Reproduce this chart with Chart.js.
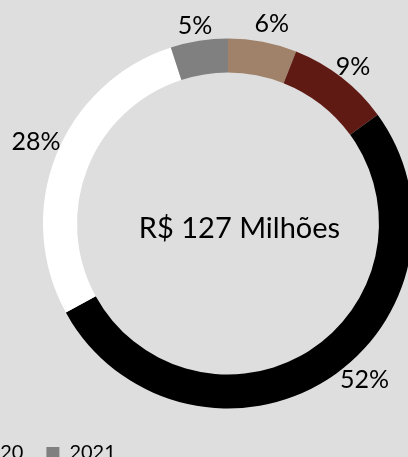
<!DOCTYPE html>
<html>
<head>
<meta charset="utf-8">
<script src="https://cdn.jsdelivr.net/npm/chart.js@4.4.1/dist/chart.umd.min.js"></script>
<style>
    html, body { margin: 0; padding: 0; background: #dedede; width: 408px; height: 457px; overflow: hidden; position: relative; }
    #wrap { position: absolute; left: -69px; top: 0; width: 594px; height: 479px; }
</style>
</head>
<body>
<div id="wrap"><canvas id="donutChart"></canvas></div>
<script>
/* ================= DATA ================= */

const segments = ["Segmento A", "Segmento B", "Segmento C", "Segmento D", "Segmento E"];
const shares = [6, 9, 52, 28, 5];
const segmentColors = ["#a0826a", "#601a14", "#000000", "#ffffff", "#808080"];
const legendYears = ["2020", "2021"];
const legendColors = ["#404040", "#808080"];
const centerLabel = "R$ 127 Milhões";

const FONT = "Lato, 'Open Sans', sans-serif";

/* ================= PLUGINS ================= */

// percent labels outside each slice
const sliceLabels = {
    id: "sliceLabels",
    afterDatasetsDraw(chart, args, opts) {
        const ctx = chart.ctx;
        const meta = chart.getDatasetMeta(0);
        const total = shares.reduce((a, b) => a + b, 0);
        ctx.save();
        ctx.font = opts.size + "px " + FONT;
        ctx.fillStyle = "#000";
        ctx.textAlign = "center";
        ctx.textBaseline = "middle";
        meta.data.forEach((arc, i) => {
            const p = arc.getProps(["x", "y", "startAngle", "endAngle", "outerRadius"], true);
            const mid = (p.startAngle + p.endAngle) / 2 + opts.angleShift[i] * Math.PI / 180;
            const r = p.outerRadius + opts.gap[i];
            const pct = Math.round(shares[i] / total * 100) + "%";
            ctx.fillText(pct, p.x + Math.cos(mid) * r, p.y + Math.sin(mid) * r);
        });
        ctx.restore();
    }
};

// total in the middle of the ring
const centerText = {
    id: "centerText",
    afterDatasetsDraw(chart, args, opts) {
        const arc = chart.getDatasetMeta(0).data[0];
        if (!arc) return;
        const ctx = chart.ctx;
        ctx.save();
        ctx.font = opts.size + "px " + FONT;
        ctx.fillStyle = "#000";
        ctx.textAlign = "center";
        ctx.textBaseline = "middle";
        ctx.fillText(centerLabel, arc.x + opts.dx, arc.y + opts.dy);
        ctx.restore();
    }
};

/* ================= CHART ================= */

new Chart(document.getElementById("donutChart"), {
    type: "doughnut",
    data: {
        labels: segments,
        datasets: [{
            data: shares,
            backgroundColor: segmentColors,
            borderWidth: 0,
            hoverOffset: 0
        }]
    },
    options: {
        responsive: true,
        maintainAspectRatio: false,
        animation: false,
        radius: 185,
        cutout: "81.6%",
        layout: { padding: { top: 27, bottom: 6, left: 0, right: 0 } },
        plugins: {
            tooltip: { enabled: false },
            legend: {
                position: "bottom",
                align: "start",
                labels: {
                    boxWidth: 13,
                    boxHeight: 12,
                    padding: 23,
                    color: "#000",
                    font: { family: FONT, size: 20 },
                    generateLabels: () => legendYears.map((y, i) => ({
                        text: y,
                        fillStyle: legendColors[i],
                        strokeStyle: legendColors[i],
                        lineWidth: 0,
                        hidden: false,
                        index: i
                    }))
                }
            },
            sliceLabels: { size: 25, gap: [19, 15, 22.7, 23.6, 15], angleShift: [1.6, 0.9, -8.7, 1.4, -0.5] },
            centerText: { size: 29, dx: 11.5, dy: 5 }
        }
    },
    plugins: [sliceLabels, centerText]
});
</script>
</body>
</html>
